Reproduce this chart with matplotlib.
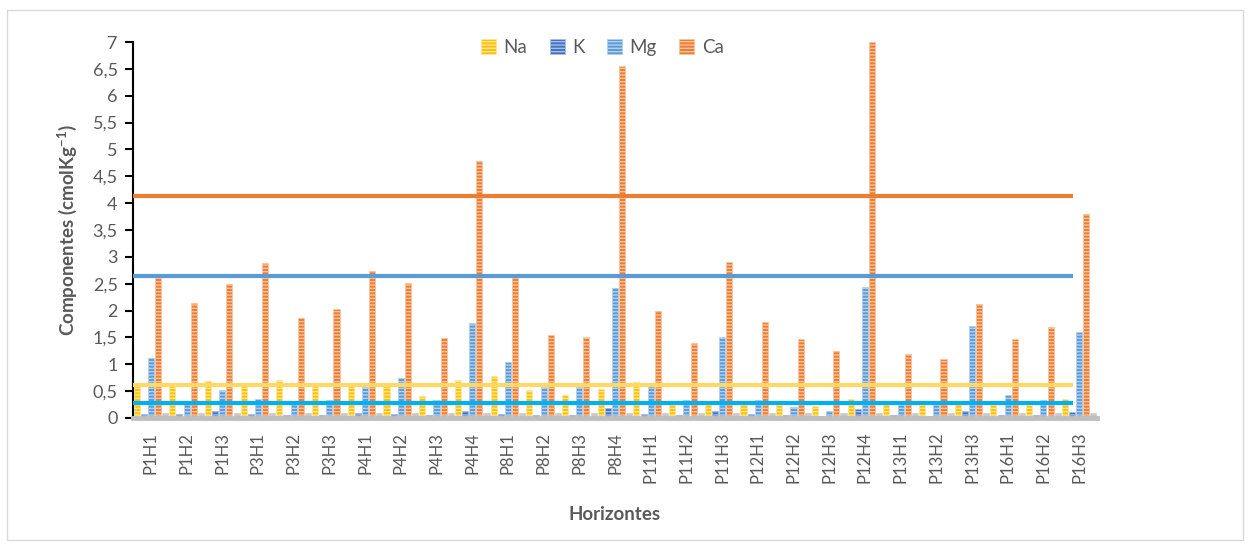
import matplotlib
matplotlib.use("Agg")
import matplotlib.pyplot as plt
import matplotlib.patches as mpatches
import numpy as np

plt.rcParams['font.family'] = ['Lato', 'DejaVu Sans']
plt.rcParams['hatch.linewidth'] = 1.0
plt.rcParams['mathtext.fontset'] = 'custom'
plt.rcParams['mathtext.bf'] = 'Lato:bold'
plt.rcParams['mathtext.rm'] = 'Lato'

# horizons (categories)
horizontes = ['P1H1', 'P1H2', 'P1H3', 'P3H1', 'P3H2', 'P3H3', 'P4H1', 'P4H2', 'P4H3',
              'P4H4', 'P8H1', 'P8H2', 'P8H3', 'P8H4', 'P11H1', 'P11H2', 'P11H3',
              'P12H1', 'P12H2', 'P12H3', 'P12H4', 'P13H1', 'P13H2', 'P13H3',
              'P16H1', 'P16H2', 'P16H3']

na = [0.61, 0.60, 0.69, 0.60, 0.70, 0.60, 0.60, 0.60, 0.41, 0.70, 0.79, 0.52, 0.43, 0.54,
      0.67, 0.24, 0.26, 0.24, 0.24, 0.23, 0.35, 0.27, 0.24, 0.29, 0.24, 0.24, 0.35]
k = [0.07, 0.08, 0.13, 0.08, 0.06, 0.06, 0.09, 0.07, 0.05, 0.13, 0.07, 0.05, 0.05, 0.18,
     0.07, 0.05, 0.13, 0.07, 0.05, 0.04, 0.16, 0.05, 0.04, 0.13, 0.05, 0.05, 0.11]
mg = [1.11, 0.26, 0.52, 0.36, 0.26, 0.33, 0.58, 0.75, 0.33, 1.77, 1.04, 0.58, 0.58, 2.42,
      0.64, 0.33, 1.50, 0.33, 0.21, 0.13, 2.44, 0.25, 0.25, 1.71, 0.43, 0.33, 1.60]
ca = [2.63, 2.14, 2.49, 2.88, 1.86, 2.02, 2.74, 2.52, 1.49, 4.79, 2.61, 1.54, 1.51, 6.55,
      1.99, 1.40, 2.91, 1.79, 1.47, 1.25, 7.00, 1.19, 1.10, 2.12, 1.47, 1.69, 3.80]
# small grey series (not in legend)
otros = [0.10, 0.10, 0.10, 0.10, 0.10, 0.10, 0.10, 0.10, 0.10, 0.10, 0.10, 0.10, 0.10, 0.10,
         0.10, 0.10, 0.10, 0.10, 0.10, 0.10, 0.10, 0.10, 0.10, 0.10, 0.10, 0.10, 0.10]

# reference lines: Ca, Mg, Na, cyan
ref_niveles = [4.14, 2.65, 0.62, 0.285]
ref_colores = ['#ED7D31', '#5B9BD5', '#FFD966', '#00B0F0']

series = [('Na', na, '#FFC000', '#FFE699'),
          ('K', k, '#4472C4', '#A9BDE5'),
          ('Mg', mg, '#5B9BD5', '#B4D0EC'),
          ('Ca', ca, '#ED7D31', '#F8C4A0'),
          (None, otros, '#A5A5A5', '#D6D6D6')]

gris = '#595959'

fig = plt.figure(figsize=(12.51, 5.5), dpi=100)
fig.patches.append(mpatches.Rectangle((7 / 1251, 10 / 550), 1236 / 1251, 530 / 550,
                                      transform=fig.transFigure, fill=False,
                                      edgecolor='#D9D9D9', lw=1))
ax = fig.add_axes([133 / 1251, 1 - 418 / 550, 964 / 1251, 376 / 550])

x = np.arange(len(horizontes))
ancho = 0.2
handles = []
for i, (nombre, vals, col, claro) in enumerate(series):
    ax.bar(x + (i - 2) * ancho, vals, width=0.17, color=col, edgecolor=claro,
           linewidth=0.6, hatch='-----', zorder=2)
    if nombre:
        handles.append(mpatches.Patch(facecolor=col, edgecolor=claro, hatch='-----',
                                      linewidth=0.6, label=nombre))

for nivel, col in zip(ref_niveles, ref_colores):
    ax.plot([-0.5, 25.83], [nivel, nivel], color=col, lw=3, zorder=3,
            solid_capstyle='butt')

ax.set_xlim(-0.5, len(horizontes) - 0.5)
ax.set_ylim(0, 7)
ax.set_yticks(np.arange(0, 7.01, 0.5))
ax.set_yticklabels([('%g' % v).replace('.', ',') for v in np.arange(0, 7.01, 0.5)])
ax.set_xticks(x)
ax.set_xticklabels(horizontes, rotation=90)

ax.tick_params(axis='y', colors='black', labelcolor=gris, labelsize=13,
               length=6, width=1.5, direction='out', pad=5)
ax.tick_params(axis='x', length=0, labelcolor=gris, labelsize=12, pad=10)

for s in ['top', 'right']:
    ax.spines[s].set_visible(False)
ax.spines['left'].set_color('black')
ax.spines['left'].set_linewidth(1.5)
ax.spines['bottom'].set_color('#BFBFBF')
ax.spines['bottom'].set_linewidth(3.5)

ax.set_ylabel('Componentes (cmolKg$^{\\mathbf{-1}}$)', fontsize=13.5, fontweight='bold',
              color=gris, labelpad=10)
ax.set_xlabel('Horizontes', fontsize=13.5, fontweight='bold', color=gris, labelpad=16)

leg = ax.legend(handles=handles, loc='center', bbox_to_anchor=(0.487, 0.985), ncol=4,
                frameon=False, handlelength=0.8, handleheight=0.8, columnspacing=1.2,
                handletextpad=0.4, fontsize=13.5)
for t in leg.get_texts():
    t.set_color(gris)

fig.savefig('out.png', dpi=100)
